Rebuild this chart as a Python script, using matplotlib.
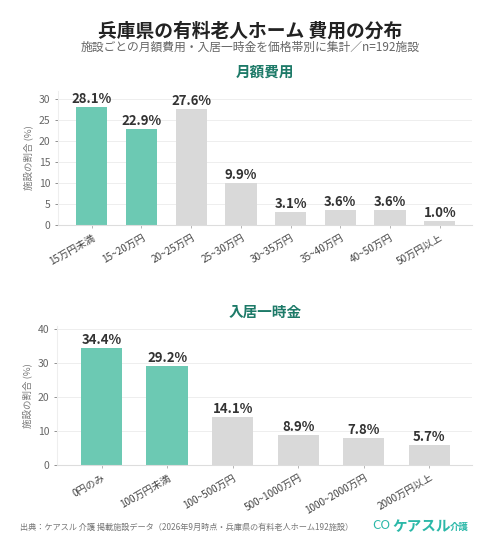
import matplotlib
matplotlib.use("Agg")
import matplotlib.pyplot as plt

plt.rcParams['font.family'] = ['Noto Sans CJK JP', 'DejaVu Sans']

# 月額費用
monthly_labels = ['15万円未満', '15~20万円', '20~25万円', '25~30万円',
                  '30~35万円', '35~40万円', '40~50万円', '50万円以上']
monthly_vals = [28.1, 22.9, 27.6, 9.9, 3.1, 3.6, 3.6, 1.0]
monthly_hl = [True, True, False, False, False, False, False, False]

# 入居一時金
entry_labels = ['0円のみ', '100万円未満', '100~500万円', '500~1000万円',
                '1000~2000万円', '2000万円以上']
entry_vals = [34.4, 29.2, 14.1, 8.9, 7.8, 5.7]
entry_hl = [True, True, False, False, False, False]

TEAL = '#6cc9b3'
GRAY = '#d9d9d9'
DARK_TEAL = '#1d7a68'
TXT = '#333333'
SUB = '#666666'


def draw_panel(ax, labels, vals, hl, ymax, yticks):
    x = range(len(vals))
    colors = [TEAL if h else GRAY for h in hl]
    ax.bar(x, vals, width=0.63, color=colors, zorder=2)
    for i, v in enumerate(vals):
        ax.text(i, v + ymax * 0.008, f'{v:.1f}%', ha='center', va='bottom',
                fontsize=9.5, fontweight='bold', color=TXT, zorder=3)
    ax.set_xlim(-0.68, len(vals) - 0.35)
    ax.set_ylim(0, ymax)
    ax.set_yticks(yticks)
    ax.set_xticks(list(x))
    ax.set_xticklabels(labels, rotation=30, ha='right', rotation_mode='anchor',
                       fontsize=7.2, color='#444444')
    ax.tick_params(axis='y', labelsize=7.5, colors='#666666', length=2, width=0.5)
    ax.tick_params(axis='x', length=2, width=0.5, color='#999999')
    ax.grid(axis='y', color='#eeeeee', linewidth=0.7, zorder=0)
    for s in ['top', 'right']:
        ax.spines[s].set_visible(False)
    ax.spines['left'].set_color('#eeeeee')
    ax.spines['bottom'].set_color('#dddddd')
    ax.set_ylabel('施設の割合 (%)', fontsize=6.8, color='#777777', labelpad=4)


fig = plt.figure(figsize=(5.0, 5.58), dpi=100)
fig.patch.set_facecolor('white')

fig.text(0.5, 0.945, '兵庫県の有料老人ホーム 費用の分布', ha='center', va='center',
         fontsize=13.5, fontweight='bold', color='#222222')
fig.text(0.5, 0.915, '施設ごとの月額費用・入居一時金を価格帯別に集計／n=192施設',
         ha='center', va='center', fontsize=8.5, color=SUB)

fig.text(0.53, 0.871, '月額費用', ha='center', va='center', fontsize=10.5,
         fontweight='bold', color=DARK_TEAL)
ax1 = fig.add_axes([0.116, 0.597, 0.828, 0.240])
draw_panel(ax1, monthly_labels, monthly_vals, monthly_hl, 32, [0, 5, 10, 15, 20, 25, 30])

fig.text(0.53, 0.441, '入居一時金', ha='center', va='center', fontsize=10.5,
         fontweight='bold', color=DARK_TEAL)
ax2 = fig.add_axes([0.114, 0.167, 0.830, 0.249])
draw_panel(ax2, entry_labels, entry_vals, entry_hl, 41, [0, 10, 20, 30, 40])

fig.text(0.04, 0.055, '出典：ケアスル 介護 掲載施設データ（2026年9月時点・兵庫県の有料老人ホーム192施設）',
         ha='left', va='center', fontsize=5.9, color='#777777')
fig.text(0.744, 0.058, 'CO', ha='left', va='center', fontsize=9.5,
         color='#2bb8a8')
fig.text(0.784, 0.058, 'ケアスル', ha='left', va='center', fontsize=10.5,
         fontweight='bold', color='#2bb8a8')
fig.text(0.9, 0.056, '介護', ha='left', va='center', fontsize=6.8,
         fontweight='bold', color='#2bb8a8')

fig.savefig('out.png', dpi=100)
